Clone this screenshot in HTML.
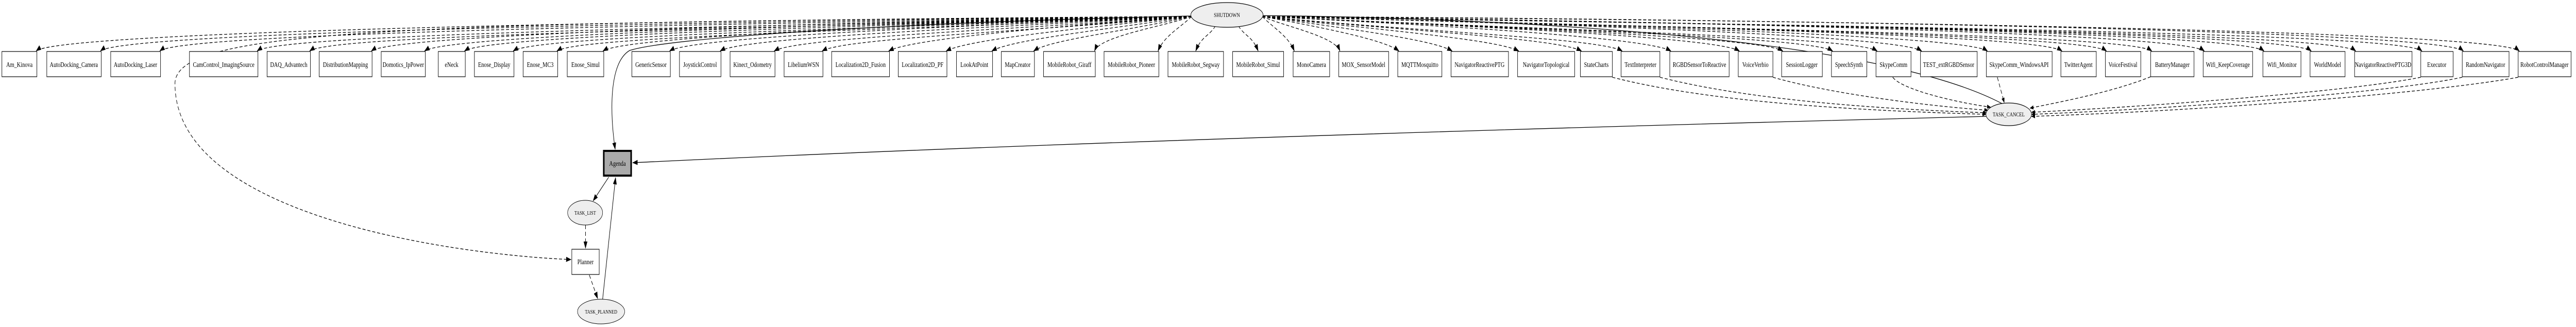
<!DOCTYPE html>
<html><head><meta charset="utf-8">
<style>
html,body{margin:0;padding:0;background:#fff;width:100%;height:100%;overflow:hidden;}
svg{display:block;position:absolute;left:0;top:0;width:100vw;height:100vh;}
text{font-family:"Liberation Serif",serif;font-size:14px;text-anchor:middle;fill:#000;}
.b{fill:#fff;stroke:#000;stroke-width:1.2;}
</style></head>
<body>
<svg id="s" viewBox="0 0 6771 635" preserveAspectRatio="none" xmlns="http://www.w3.org/2000/svg">
<defs>
<marker id="a" markerWidth="10" markerHeight="8" refX="9" refY="4" orient="auto" markerUnits="userSpaceOnUse"><path d="M0,0 L10,4 L0,8 z" fill="#000"/></marker>
<marker id="a2" markerWidth="14" markerHeight="10" refX="13" refY="5" orient="auto" markerUnits="userSpaceOnUse"><path d="M0,0 L14,5 L0,10 z" fill="#000"/></marker>
</defs>
<g id="edges" fill="none" stroke="#000"></g>
<g fill="none" stroke="#000" stroke-width="1.3">
<path d="M3132 31 C2300 45 1750 75 1655 98 C1600 122 1603 220 1617 290" marker-end="url(#a2)"/>
<path d="M5222 226 Q3000 268 1663 316" marker-end="url(#a2)"/>
<path d="M5262 201 C4900 60 3800 33 3288 30" marker-end="url(#a2)"/>
<path d="M1600 344 L1559 390" marker-end="url(#a2)"/>
<path d="M1584 581 L1618 345" marker-end="url(#a2)"/>
</g>
<g fill="none" stroke="#000" stroke-width="1.3" stroke-dasharray="8,5">
<path d="M3132 33 C1000 42 470 60 460 160 C455 420 1200 495 1501 504" marker-end="url(#a2)"/>
<path d="M1539 437 L1539 482" marker-end="url(#a2)"/>
<path d="M1549 534 L1571 580" marker-end="url(#a2)"/>
<path d="M4238 150 C4500 200 4900 215 5220 222" marker-end="url(#a)"/>
<path d="M4363 150 C4600 195 4950 212 5221 219" marker-end="url(#a)"/>
<path d="M4660 150 C4800 180 5050 205 5225 214" marker-end="url(#a)"/>
<path d="M4975 150 C5000 175 5150 200 5232 208" marker-end="url(#a)"/>
<path d="M5250 150 L5268 199" marker-end="url(#a)"/>
<path d="M5653 149 C5550 180 5400 200 5336 210" marker-end="url(#a)"/>
<path d="M6363 150 C6200 175 5700 205 5340 218" marker-end="url(#a)"/>
<path d="M6472 150 C6300 178 5750 210 5340 222" marker-end="url(#a)"/>
<path d="M6619 150 C6400 180 5800 215 5340 226" marker-end="url(#a)"/>
</g>

<ellipse cx="3225" cy="29" rx="95" ry="24" fill="#eee" stroke="#000" stroke-width="1.2"/>
<text x="3225" y="33" style="font-size:12px">SHUTDOWN</text>
<ellipse cx="5280" cy="222" rx="60" ry="22" fill="#eee" stroke="#000" stroke-width="1.2"/>
<text x="5280" y="226" style="font-size:12px">TASK_CANCEL</text>

<rect x="1587" y="293" width="72" height="48" fill="#aaa" stroke="#000" stroke-width="4"/>
<text x="1623" y="322">Agenda</text>
<ellipse cx="1538" cy="413" rx="46" ry="24" fill="#eee" stroke="#000" stroke-width="1"/>
<text x="1538" y="417" style="font-size:11px">TASK_LIST</text>
<rect x="1503" y="484" width="72" height="49" class="b"/>
<text x="1539" y="513">Planner</text>
<ellipse cx="1580" cy="605" rx="62" ry="24" fill="#eee" stroke="#000" stroke-width="1"/>
<text x="1580" y="609" style="font-size:11px">TASK_PLANNED</text>

<g id="boxes">
<rect x="5" y="100" width="92" height="49" class="b"/><text x="51" y="130">Am_Kinova</text>
<rect x="123" y="100" width="143" height="49" class="b"/><text x="194" y="130">AutoDocking_Camera</text>
<rect x="291" y="100" width="131" height="49" class="b"/><text x="356" y="130">AutoDocking_Laser</text>
<rect x="498" y="100" width="180" height="49" class="b"/><text x="588" y="130">CamControl_ImagingSource</text>
<rect x="702" y="100" width="114" height="49" class="b"/><text x="759" y="130">DAQ_Advantech</text>
<rect x="839" y="100" width="139" height="49" class="b"/><text x="908" y="130">DistributionMapping</text>
<rect x="1002" y="100" width="116" height="49" class="b"/><text x="1060" y="130">Domotics_IpPower</text>
<rect x="1152" y="100" width="71" height="49" class="b"/><text x="1187" y="130">eNeck</text>
<rect x="1247" y="100" width="104" height="49" class="b"/><text x="1299" y="130">Enose_Display</text>
<rect x="1375" y="100" width="91" height="49" class="b"/><text x="1420" y="130">Enose_MC3</text>
<rect x="1491" y="100" width="96" height="49" class="b"/><text x="1539" y="130">Enose_Simul</text>
<rect x="1661" y="100" width="101" height="49" class="b"/><text x="1711" y="130">GenericSensor</text>
<rect x="1786" y="100" width="109" height="49" class="b"/><text x="1840" y="130">JoystickControl</text>
<rect x="1919" y="100" width="118" height="49" class="b"/><text x="1978" y="130">Kinect_Odometry</text>
<rect x="2061" y="100" width="102" height="49" class="b"/><text x="2112" y="130">LibeliumWSN</text>
<rect x="2186" y="100" width="152" height="49" class="b"/><text x="2262" y="130">Localization2D_Fusion</text>
<rect x="2361" y="100" width="128" height="49" class="b"/><text x="2425" y="130">Localization2D_PF</text>
<rect x="2514" y="100" width="95" height="49" class="b"/><text x="2561" y="130">LookAtPoint</text>
<rect x="2632" y="100" width="87" height="49" class="b"/><text x="2675" y="130">MapCreator</text>
<rect x="2743" y="100" width="136" height="49" class="b"/><text x="2811" y="130">MobileRobot_Giraff</text>
<rect x="2902" y="100" width="144" height="49" class="b"/><text x="2974" y="130">MobileRobot_Pioneer</text>
<rect x="3070" y="100" width="146" height="49" class="b"/><text x="3143" y="130">MobileRobot_Segway</text>
<rect x="3240" y="100" width="134" height="49" class="b"/><text x="3307" y="130">MobileRobot_Simul</text>
<rect x="3399" y="100" width="96" height="49" class="b"/><text x="3447" y="130">MonoCamera</text>
<rect x="3519" y="100" width="131" height="49" class="b"/><text x="3584" y="130">MOX_SensorModel</text>
<rect x="3674" y="100" width="116" height="49" class="b"/><text x="3732" y="130">MQTTMosquitto</text>
<rect x="3814" y="100" width="151" height="49" class="b"/><text x="3889" y="130">NavigatorReactivePTG</text>
<rect x="3989" y="100" width="150" height="49" class="b"/><text x="4064" y="130">NavigatorTopological</text>
<rect x="4154" y="100" width="84" height="49" class="b"/><text x="4196" y="130">StateCharts</text>
<rect x="4261" y="100" width="102" height="49" class="b"/><text x="4312" y="130">TextInterpreter</text>
<rect x="4389" y="100" width="156" height="49" class="b"/><text x="4467" y="130">RGBDSensorToReactive</text>
<rect x="4569" y="100" width="91" height="49" class="b"/><text x="4614" y="130">VoiceVerbio</text>
<rect x="4683" y="100" width="107" height="49" class="b"/><text x="4736" y="130">SessionLogger</text>
<rect x="4814" y="100" width="93" height="49" class="b"/><text x="4860" y="130">SpeechSynth</text>
<rect x="4931" y="100" width="92" height="49" class="b"/><text x="4977" y="130">SkypeComm</text>
<rect x="5048" y="100" width="149" height="49" class="b"/><text x="5122" y="130">TEST_extRGBDSensor</text>
<rect x="5221" y="100" width="173" height="49" class="b"/><text x="5307" y="130">SkypeComm_WindowsAPI</text>
<rect x="5417" y="100" width="93" height="49" class="b"/><text x="5463" y="130">TwitterAgent</text>
<rect x="5534" y="100" width="93" height="49" class="b"/><text x="5580" y="130">VoiceFestival</text>
<rect x="5653" y="100" width="114" height="49" class="b"/><text x="5710" y="130">BatteryManager</text>
<rect x="5791" y="100" width="130" height="49" class="b"/><text x="5856" y="130">Wifi_KeepCoverage</text>
<rect x="5948" y="100" width="100" height="49" class="b"/><text x="5998" y="130">Wifi_Monitor</text>
<rect x="6072" y="100" width="92" height="49" class="b"/><text x="6118" y="130">WorldModel</text>
<rect x="6189" y="100" width="151" height="49" class="b"/><text x="6264" y="130">NavigatorReactivePTG3D</text>
<rect x="6363" y="100" width="85" height="49" class="b"/><text x="6405" y="130">Executor</text>
<rect x="6472" y="100" width="123" height="49" class="b"/><text x="6533" y="130">RandomNavigator</text>
<rect x="6619" y="100" width="139" height="49" class="b"/><text x="6688" y="130">RobotControlManager</text>
</g>
</svg>
<script>
(function(){
var xs=[[5,97],[123,266],[291,422],[498,678],[702,816],[839,978],[1002,1118],[1152,1223],[1247,1351],[1375,1466],[1491,1587],[1661,1762],[1786,1895],[1919,2037],[2061,2163],[2186,2338],[2361,2489],[2514,2609],[2632,2719],[2743,2879],[2902,3046],[3070,3216],[3240,3374],[3399,3495],[3519,3650],[3674,3790],[3814,3965],[3989,4139],[4154,4238],[4261,4363],[4389,4545],[4569,4660],[4683,4790],[4814,4907],[4931,5023],[5048,5197],[5221,5394],[5417,5510],[5534,5627],[5653,5767],[5791,5921],[5948,6048],[6072,6164],[6189,6340],[6363,6448],[6472,6595],[6619,6758]];
var g=document.getElementById('edges'),ns='http://www.w3.org/2000/svg',cx=3225;
xs.forEach(function(b,i){
  var tx,sx,sy=32;
  if(b[1]<3160){tx=b[1]-2;sx=3132;}
  else if(b[0]>3290){tx=b[0]+3;sx=3318;}
  else{tx=(b[0]+b[1])/2;sx=tx<cx?3195:3255;sy=50;}
  var d=Math.abs(tx-sx),sp=Math.min(1,d/3300);
  var y1=sy+4+(i%5)*3+20*(1-sp);
  var c1x=sx+(tx-sx)*0.45, c2x=tx+(tx<sx?60:-60)*Math.min(1,d/600);
  var c2y=Math.max(y1,60+20*(1-sp));
  if(d<300){c1x=sx+(tx-sx)*0.3;c2x=tx+(tx<sx?15:-15);y1=sy+20;c2y=70;}
  var p=document.createElementNS(ns,'path');
  p.setAttribute('d','M'+sx+' '+sy+' C'+c1x+' '+y1+' '+c2x+' '+c2y+' '+tx+' 99');
  p.setAttribute('stroke-width','1.3');
  p.setAttribute('stroke-dasharray','8,5');
  p.setAttribute('marker-end','url(#a2)');
  g.appendChild(p);
});
})();
</script>
</body></html>
